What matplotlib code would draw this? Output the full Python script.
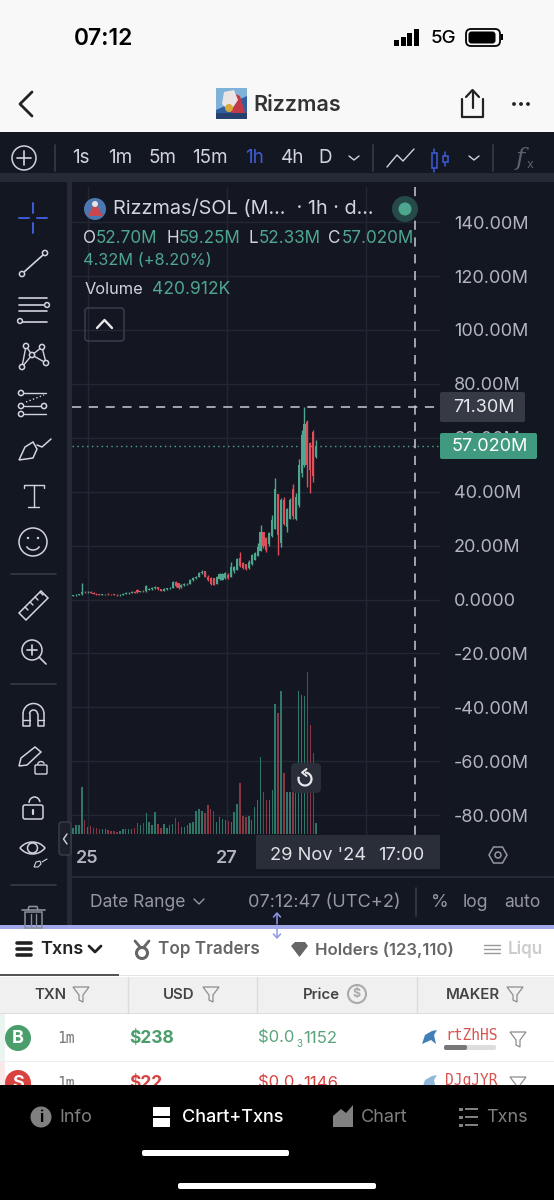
import matplotlib
matplotlib.use("Agg")
import matplotlib.pyplot as plt
from matplotlib.patches import Rectangle, Circle, Polygon, FancyBboxPatch, Arc

plt.rcParams['font.family'] = ['Inter', 'DejaVu Sans']

# candles, values in millions
opens = [1.4,1.5,1.7,1.9,2.8,2.6,2.8,2.5,2.2,1.9, 1.8,1.9,2.1,2.1,1.9,1.8,1.6,1.7,2.2,2.4,
         2.5,2.7,3.7,2.7,3.3,3.0,3.6,3.8,4.1,4.5, 3.8,3.2,3.8,4.1,4.3,6.6,6.0,4.5,5.3,5.7,
         5.8,7.2,7.9,8.5,9.7,10.5,8.5,8.0,7.8,5.8, 7.5,7.3,7.9,9.2,8.5,10.5,11,15.5,13.5,13,
         11.8,13,14.5,16,18,24.9,23,20.5,23.5,26, 39,21,37,27,30,41,30,35,47,50,
         66,58,62,52.70]
closes = [1.5,1.7,1.9,2.8,2.6,2.7,2.5,2.2,1.9,1.8, 1.9,2.0,2.0,1.9,1.8,1.6,1.7,2.2,2.4,2.5,
          2.7,2.5,2.7,3.0,3.1,4.9,3.8,4.1,4.5,3.8, 3.2,3.8,4.1,4.3,6.6,4.9,4.2,5.3,5.7,5.8,
          7.2,7.9,8.5,9.7,10.3,8.5,7.2,5.8,5.5,8.3, 9.4,9.6,9.7,8.0,12,12,15,12.5,11.8,11.5,
          14,16.5,17.2,19.5,25,20,18.5,24.5,29.5,41, 24,37,28,33.5,37,31,38,50,61,65,
          50,48,46,57.02]
highs = [1.7,1.9,2.2,6.0,3.2,3.1,3.1,2.7,2.3,2.1, 2.2,2.2,2.3,2.2,2.1,1.9,1.9,2.5,2.7,2.9,
         3.0,3.0,3.9,3.3,3.7,5.2,4.1,4.5,4.9,4.6, 3.9,4.1,4.4,4.6,6.9,6.8,6.2,5.6,6.0,6.2,
         7.5,8.3,8.9,10.1,10.8,10.7,9.0,8.3,8.1,8.6, 9.8,10.0,10.1,9.7,14,12.5,15.3,17.7,14,13.3,
         14.6,17,17.7,20.8,27.6,25.1,23.3,25.1,31.3,44.9, 39.1,37.5,38.1,33.8,37.5,43,39.4,52.3,62.9,71.3,
         66.6,58.5,62.9,59.25]
lows = [1.3,1.4,1.6,1.7,2.3,2.4,2.3,2.0,1.8,1.7, 1.7,1.8,1.8,1.8,1.6,1.4,1.4,1.6,2.1,2.2,
        2.3,2.3,2.5,2.6,2.9,2.9,3.4,3.7,3.9,3.5, 3.0,3.1,3.6,4.0,4.1,4.7,4.0,4.2,5.1,5.3,
        5.6,7.0,7.6,8.2,9.4,8.2,6.9,5.5,5.2,5.6, 7.3,7.1,7.6,7.7,8.2,10,10.8,12,11.5,11,
        11.5,12.8,14.5,16,18,19,17.7,20,23.3,26, 16.5,19.5,27.6,25.1,30,30,29.5,34.4,45.5,49,
        41.8,39.4,43.7,52.33]
# volume in thousands
volumes = [250,355,355,1867,552,289,316,250,224,210, 210,184,158,132,118,92,118,197,210,210,
           197,224,447,355,447,815,460,355,855,395, 224,381,250,355,381,618,487,263,289,355,
           421,487,907,973,921,815,1144,973,921,487, 684,579,552,513,487,855,1170,2025,710,658,
           710,552,1052,1341,3051,1644,1341,1341,1736,5115, 4760,5641,2393,1644,1644,1644,1604,5615,5484,5444,
           6365,4300,3182,420.912]
price_ticks = [140,120,100,80,60,40,20,0,-20,-40,-60,-80]
price_labels = ["140.00M","120.00M","100.00M","80.00M","60.00M","40.00M","20.00M","0.0000",
                "-20.00M","-40.00M","-60.00M","-80.00M"]
date_ticks = [5, 52.5, 100]
last_high = 71.30
last_close = 57.02

W, H = 554, 1200
DARK = "#131722"
PANE = "#141721"
GAP = "#262a36"
TXT = "#d1d4dc"
GREY = "#9598a1"
GREEN = "#4fa68e"
RED = "#dd4f5b"
BLUE = "#3f5bd8"

fig = plt.figure(figsize=(5.54, 12), dpi=100, facecolor="#f8f8f8")


def full_axes(z):
    a = fig.add_axes([0, 0, 1, 1], zorder=z)
    a.set_xlim(0, W)
    a.set_ylim(H, 0)
    a.axis("off")
    a.patch.set_alpha(0)
    return a


bg = full_axes(0)
ui = full_axes(5)

# backgrounds
bg.add_patch(Rectangle((0, 132), W, 793, color=DARK, lw=0))
bg.add_patch(Rectangle((0, 173), W, 9, color=GAP, lw=0))
bg.add_patch(Rectangle((67, 182), 5, 743, color=GAP, lw=0))
bg.add_patch(Rectangle((72, 876), W - 72, 1.5, color=GAP, lw=0))
bg.add_patch(Rectangle((0, 925), W, 160, color="white", lw=0))
bg.add_patch(Rectangle((0, 1085), W, 115, color="black", lw=0))

# price pane, pixel box x 72..440, y 187..835
L, R, T, B = 72, 440, 187, 835
rect = [L / W, 1 - B / H, (R - L) / W, (B - T) / H]
ax = fig.add_axes(rect, zorder=2, facecolor=PANE)
ax.set_xlim(-0.35, -0.35 + (R - L) / 2.93)
ax.set_ylim((599.5 - B) / 2.695, (599.5 - T) / 2.695)
ax.set_yticks(price_ticks)
ax.set_yticklabels(price_labels, fontsize=13, color="#b2b5be")
ax.yaxis.tick_right()
ax.tick_params(axis="y", length=0, pad=10)
ax.set_xticks(date_ticks)
ax.set_xticklabels(["25", "27", ""], fontsize=13, fontweight="semibold", color="#b2b5be")
ax.tick_params(axis="x", length=0, pad=11)
ax.grid(True, color="#232733", lw=1)
ax.set_axisbelow(True)
for s in ax.spines.values():
    s.set_visible(False)

idx = list(range(len(opens)))
cols = [GREEN if c >= o else RED for o, c in zip(opens, closes)]
ax.vlines(idx, lows, highs, colors=cols, lw=1, zorder=3)
ax.bar(idx, [c - o for o, c in zip(opens, closes)], bottom=opens, width=0.72, color=cols, lw=0, zorder=3)

ax.axhline(last_high, color="#c9ccd3", lw=1.1, ls=(0, (6, 5)), zorder=4)
ax.axhline(last_close, color=GREEN, lw=1, ls=(0, (1, 2.5)), zorder=2)

# volume shares the lower part of the pane
vx = fig.add_axes(rect, zorder=3)
vx.patch.set_alpha(0)
vx.set_xlim(ax.get_xlim())
vx.set_ylim(-39.4, (834 - T) * 39.4)
vx.axis("off")
vcols = ["#2e7768" if c >= o else "#883743" for o, c in zip(opens, closes)]
vx.bar(idx, volumes, width=0.5, color=vcols, lw=0)


def t(x, y, s, size=13, color=TXT, ha="left", weight="normal", family=None, **kw):
    if family:
        kw["family"] = family
    return ui.text(x, y + 1.2, s, fontsize=size, color=color, ha=ha, va="center", fontweight=weight, **kw)


def ln(xs, ys, color=TXT, lw=1.2, **kw):
    ui.plot(xs, ys, color=color, lw=lw, solid_capstyle="round", **kw)


def box(x, y, w, h, color, r=3, ec="none", lw=0, z=2):
    ui.add_patch(FancyBboxPatch((x + r, y + r), w - 2 * r, h - 2 * r, boxstyle=f"round,pad={r}",
                                fc=color, ec=ec, lw=lw, zorder=z))


def circ(x, y, r, fc="none", ec=TXT, lw=1.1, z=3):
    ui.add_patch(Circle((x, y), r, fc=fc, ec=ec, lw=lw, zorder=z))


def poly(pts, fc="none", ec=TXT, lw=1.1, z=3):
    ui.add_patch(Polygon(pts, closed=True, fc=fc, ec=ec, lw=lw, zorder=z))


def funnel(x, y, color="#8d8d8d", s=1.0):
    poly([(x - 8 * s, y - 7 * s), (x + 8 * s, y - 7 * s), (x + 2 * s, y + 1 * s),
          (x + 2 * s, y + 8 * s), (x - 2 * s, y + 6 * s), (x - 2 * s, y + 1 * s)], ec=color, lw=0.9)


# phone status bar
t(104, 37.5, "07:12", 16.5, "black", "center", "semibold")
for i, h_ in enumerate([6, 9, 13, 17]):
    ui.add_patch(Rectangle((394 + i * 6.7, 45.5 - h_), 5, h_, color="black", lw=0))
t(443, 37.5, "5G", 13.5, "black", "center", "medium")
box(466, 29, 34, 17, "none", r=5, ec="black", lw=1.3)
box(468.5, 31.5, 27, 12, "black", r=3)
ui.add_patch(Rectangle((501, 34), 2, 6, color="black", lw=0))

# header
ln([32, 20, 32], [92, 104, 116], "#222222", 2)
ui.add_patch(Rectangle((216, 88), 31, 31, color="#2f5f9e", lw=0, zorder=2))
poly([(216, 88), (247, 88), (247, 96), (216, 110)], fc="#7fb2d8", ec="none", lw=0)
poly([(231, 92), (240, 96), (247, 119), (232, 119)], fc="#c2394a", ec="none", lw=0)
poly([(224, 92), (234, 90), (238, 100), (230, 112), (222, 104)], fc="#ece4e4", ec="none", lw=0)
circ(229, 108, 4, fc="#d8a83a", ec="none", lw=0)
poly([(216, 113), (247, 113), (247, 119), (216, 119)], fc="#27406f", ec="none", lw=0)
t(253, 103.5, "Rizzmas", 15.5, "#333333", weight="semibold")
ln([462, 462, 483, 483], [99, 117, 117, 99], "#222222", 1.6)
ln([472.5, 472.5], [91, 108], "#222222", 1.6)
ln([466, 472.5, 479], [97, 90, 97], "#222222", 1.6)
for x_ in [514, 521, 528]:
    circ(x_, 104, 1.9, fc="#222222", ec="none", lw=0)

# top toolbar
circ(24, 158, 12, ec=TXT)
ln([24, 24], [151, 165]); ln([17, 31], [158, 158])
ln([55, 55], [145, 171], "#363a45")
for x_, s_ in [(72, "1s"), (108, "1m"), (149, "5m"), (192, "15m"), (245, "1h"), (281, "4h"), (318, "D")]:
    t(x_, 157, s_, 13.6, BLUE if s_ == "1h" else TXT)
ln([349, 354, 359], [156, 160, 156], TXT, 1)
ln([373, 373], [145, 171], "#363a45")
ln([387, 397, 403, 414], [167, 155, 161, 149], TXT, 1)
for x_, y0, y1 in [(434, 149, 172), (445, 152, 166)]:
    ln([x_, x_], [y0, y1], BLUE, 1.1)
    ui.add_patch(Rectangle((x_ - 2.5, y0 + 4), 5, y1 - y0 - 8, fc=DARK, ec=BLUE, lw=1.1, zorder=3))
ln([469, 474, 479], [156, 160, 156], TXT, 1)
ln([493, 493], [145, 171], "#363a45")
t(520, 157, "f", 18, "#5a5f6b", "center", family="DejaVu Serif", style="italic")
t(530, 164, "x", 9, "#5a5f6b", "center")

# drawing tools column
for yy in [574, 684, 885]:
    ln([11, 56], [yy, yy], "#363a45")
ln([33, 33], [203, 213], BLUE, 1.4); ln([33, 33], [223, 233], BLUE, 1.4)
ln([19, 29], [218, 218], BLUE, 1.4); ln([37, 47], [218, 218], BLUE, 1.4)
ln([24, 43], [272, 255]); circ(22, 274, 2.6, fc=DARK); circ(45, 253, 2.6, fc=DARK)
for yy in [298, 305, 311, 322]:
    ln([19, 47], [yy, yy])
circ(47, 305, 2.4, fc=DARK); circ(20, 321, 2.4, fc=DARK)
# pattern
px_ = [26, 42, 32, 22, 46]
py_ = [346, 347, 355, 367, 363]
for a_, b_ in [(3, 0), (0, 2), (2, 1), (1, 4), (3, 2), (2, 4)]:
    ln([px_[a_], px_[b_]], [py_[a_], py_[b_]], TXT, 1)
for a_, b_ in zip(px_, py_):
    circ(a_, b_, 2.6, fc=DARK)
# fib
for yy, x1 in [(393, 46), (406, 41), (414, 46)]:
    ln([24, x1], [yy, yy], TXT, 1)
ln([26, 44], [402, 395], TXT, 1, ls=":")
circ(21, 393, 2.6, fc=DARK); circ(21, 406, 2.6, fc=DARK); circ(21, 414, 2.6, fc=DARK); circ(44, 406, 2.6, fc=DARK)
# brush
poly([(19, 460), (25, 447), (33, 442), (37, 449), (33, 458)])
ln([37, 42, 51], [445, 447, 439], TXT, 1.1)
# text tool
ln([24, 24, 44, 44], [488, 485, 485, 488], TXT, 1)
ln([33.5, 33.5], [485, 507], TXT, 1)
ln([28, 39], [507, 507], TXT, 1)
circ(33, 542, 14)
circ(28, 538, 1.2, fc=TXT, ec="none", lw=0); circ(38, 538, 1.2, fc=TXT, ec="none", lw=0)
ui.add_patch(Arc((33, 544), 14, 12, theta1=20, theta2=160, color=TXT, lw=1.1, zorder=3))
poly([(19, 613), (41, 591), (48, 598), (26, 620)])
for k in range(4):
    ln([25 + k * 5, 28 + k * 5], [607 - k * 5, 610 - k * 5], TXT, 1)
circ(32, 650, 10); ln([39, 46], [657, 664]); ln([32, 32], [645, 655]); ln([27, 37], [650, 650])
# magnet
ui.add_patch(Arc((33.5, 714), 21, 21, theta1=180, theta2=360, color=TXT, lw=1.1, zorder=3))
ui.add_patch(Arc((33.5, 714), 8, 8, theta1=180, theta2=360, color=TXT, lw=1.1, zorder=3))
ln([23, 23, 29.5, 29.5], [714, 726, 726, 714], TXT, 1.1)
ln([44, 44, 37.5, 37.5], [714, 726, 726, 714], TXT, 1.1)
ln([23, 29.5], [720, 720], TXT, 1); ln([37.5, 44], [720, 720], TXT, 1)
# pencil with lock
poly([(19, 766), (21, 758), (35, 747), (41, 752), (27, 765)])
box(35, 765, 12, 9, "none", r=1, ec=TXT, lw=1)
ui.add_patch(Arc((41, 765), 7, 7, theta1=180, theta2=340, color=TXT, lw=1, zorder=3))
# open lock
box(23, 805, 20, 14, "none", r=2, ec=TXT, lw=1.1)
ui.add_patch(Arc((34.5, 803), 11, 12, theta1=180, theta2=350, color=TXT, lw=1.1, zorder=3))
ln([33, 33], [810, 814], TXT, 1.6)
# eye
ui.add_patch(Arc((32.5, 858), 32, 32, theta1=218, theta2=322, color=TXT, lw=1.1, zorder=3))
ui.add_patch(Arc((32.5, 838), 32, 32, theta1=38, theta2=142, color=TXT, lw=1.1, zorder=3))
circ(32.5, 848, 5)
poly([(34, 867), (36, 862), (40, 861), (41, 864), (38, 867)], lw=0.8)
ln([42, 47], [862, 859], TXT, 0.8)
# bin
ui.add_patch(Rectangle((25, 912), 17, 16, fc="none", ec="#8b8e96", lw=1.1, zorder=3))
ln([22, 45], [910, 910], "#8b8e96"); ln([28, 29, 37, 38], [910, 906.5, 906.5, 910], "#8b8e96")
ln([31, 31], [914, 926], "#8b8e96", 1); ln([36, 36], [914, 926], "#8b8e96", 1)
box(59, 822, 12, 33, "#1c202b", r=3, ec="#3a3e4a", lw=1)
ln([67, 63.5, 67], [834, 839, 844], TXT, 1)

# legend on the chart
circ(95, 209, 11, fc="#4b78b0", ec="none", lw=0)
poly([(88, 216), (95, 202), (103, 216)], fc="#c9474f", ec="none", lw=0)
circ(95, 204, 3, fc="#e8e2e2", ec="none", lw=0)
t(113, 208, "Rizzmas/SOL (M...  · 1h · d...", 14.3, TXT)
circ(405, 209, 13, fc="#254a47", ec="none", lw=0)
circ(405, 209, 6.5, fc=GREEN, ec="none", lw=0)
for xa, a_, xb, b_ in [(83, "O", 96, "52.70M"), (166, "H", 179, "59.25M"), (248, "L", 259, "52.33M"),
                       (328, "C", 342, "57.020M")]:
    t(xa, 237, a_, 12.3, TXT)
    t(xb, 237, b_, 12.3, GREEN)
t(83, 259, "4.32M (+8.20%)", 11.8, GREEN)
t(85, 288, "Volume", 11.8, TXT)
t(152, 288, "420.912K", 12.6, GREEN)
box(85, 308, 39, 33, "none", r=3, ec="#3a3e4a", lw=1.1)
ln([97, 104.5, 112], [328, 320, 328], "#e8e8ea", 1.7)

# crosshair and price labels
ln([415, 415], [187, 835], "#c9ccd3", 1.1, ls=(0, (6, 5)))
box(440, 392, 85, 30, "#363a45", r=2)
t(453, 406, "71.30M", 13, "#e8e9ec")
box(440, 433, 97, 26, "#3f9a7f", r=2)
t(452, 445, "57.020M", 13, "white")
box(256, 835, 184, 34, "#2a2e39", r=1)
t(270, 854, "29 Nov '24", 13.2, "#e0e2e6")
t(378, 854, "17:00", 13.2, "#e0e2e6")
poly([(489, 855), (493.5, 847), (502.5, 847), (507, 855), (502.5, 863), (493.5, 863)], ec=GREY)
circ(498, 855, 3, ec=GREY)
box(291, 763, 30, 30, "#2a2e39", r=5)
ui.add_patch(Arc((305, 779), 13, 13, theta1=270, theta2=560, color="#e8e8ea", lw=1.6, zorder=4))
ln([306.5, 302, 306.5], [769, 772.5, 776], "#e8e8ea", 1.4, zorder=4)

# bottom strip of the chart
t(90, 901, "Date Range", 12.6, GREY)
ln([194, 199, 204], [899, 904, 899], GREY, 1)
t(248, 901, "07:12:47 (UTC+2)", 13.1, GREY)
ln([416, 416], [888, 916], "#363a45")
t(431, 901, "%", 13, GREY)
t(463, 901, "log", 12.6, GREY)
t(504, 901, "auto", 12.6, GREY)
ui.add_patch(Rectangle((0, 925), W, 3.5, color="#a2a9ea", lw=0))
ln([277, 277], [914, 924], "#8f97e6", 1.1); ln([273.5, 277, 280.5], [917, 913, 917], "#8f97e6", 1.1)
ln([277, 277], [929, 937], "#8f97e6", 1.1); ln([273.5, 277, 280.5], [934, 938, 934], "#8f97e6", 1.1)

# tabs
for yy in [943, 949, 955]:
    ln([17, 31], [yy, yy], "#222222", 2.6)
t(40, 948.5, "Txns", 13, "#222222", weight="semibold")
ln([89, 95, 101], [946, 952, 946], "#222222", 2)
circ(142, 953, 5.5, fc="none", ec="#666666", lw=2.2)
ln([135, 140], [941, 947], "#666666", 2); ln([149, 144], [941, 947], "#666666", 2)
t(158, 948.5, "Top Traders", 12.3, "#666666", weight="semibold")
poly([(291, 946), (295, 942), (305, 942), (308, 946), (299.5, 957)], fc="#666666", ec="none", lw=0)
t(315, 948.5, "Holders (123,110)", 12.1, "#666666", weight="semibold")
for yy in [945, 949, 953]:
    ln([484, 500], [yy, yy], "#999999", 1)
t(508, 948.5, "Liqu", 12.3, "#cccccc", weight="semibold")
ui.add_patch(Rectangle((0, 973.5), 119, 2.5, color="#555555", lw=0))
ui.add_patch(Rectangle((119, 975), W - 119, 1, color="#e6e6e6", lw=0))

# table
ui.add_patch(Rectangle((0, 977), W, 37, color="#f0f0f0", lw=0))
ui.add_patch(Rectangle((0, 1013), W, 1.2, color="#dedede", lw=0))
ui.add_patch(Rectangle((0, 1061), W, 1, color="#ececec", lw=0))
ui.add_patch(Rectangle((0, 1014), 5, 47, color="#e9f5ee", lw=0))
ui.add_patch(Rectangle((0, 1062), 5, 23, color="#fbe9e9", lw=0))
for x_ in [128, 257, 417]:
    ln([x_, x_], [977, 1013], "#dcdcdc", 1)
for x_, s_ in [(50, "TXN"), (179, "USD"), (321, "Price"), (473, "MAKER")]:
    t(x_, 994, s_, 10.8, "#444444", "center", "semibold")
funnel(81, 994); funnel(211, 994); funnel(515, 994)
circ(357, 994, 9, ec="#aaaaaa", lw=1.5)
t(357, 993, "$", 9, "#aaaaaa", "center", "bold")

# rows, the second is cut by the nav bar
MONO = ["DejaVu Sans Mono"]
for yy, letter, col, usd, tail, maker, logo in [(1038, "B", "#4a9e6b", "$238", "1152", "rtZhHS", "#3f7fb5"),
                                                 (1083, "S", "#d9433f", "$22", "1146", "DJqJYR", "#8fb8dc")]:
    price_col = "#5ba37a" if letter == "B" else col
    circ(18, yy, 13, fc=col, ec="none", lw=0)
    t(18, yy - 1, letter, 13, "white", "center", "bold")
    t(66, yy - 1, "1m", 10.5, "#777777", "center", family=MONO)
    t(129, yy - 1, usd, 12.5, col, weight="bold")
    t(258, yy - 1, "$0.0", 12, price_col)
    t(296, yy + 5, "3", 7, price_col)
    t(303, yy - 1, tail, 12, price_col)
    poly([(422, yy + 6), (425, yy - 3), (432, yy - 7), (437, yy - 8), (434, yy - 3), (436, yy + 6), (431, yy + 2)],
         fc=logo, ec="none", lw=0)
    t(445, yy - 4, maker, 10.5, "#d9534f", family=MONO)
    funnel(518, yy + 1)
box(444, 1045, 52, 5, "#dddddd", r=2)
box(444, 1045, 23, 5, "#777777", r=2)

# nav bar goes over the cut row
ui.add_patch(Rectangle((0, 1085), W, 115, color="black", lw=0, zorder=10))
nav = dict(zorder=11)
ui.add_patch(Circle((41, 1117), 10.5, color="#808080", lw=0, zorder=11))
t(41, 1116, "i", 11, "black", "center", "bold", **nav)
t(59, 1116.5, "Info", 13, "#808080", **nav)
ui.add_patch(Rectangle((153, 1107), 17, 8.5, color="white", lw=0, zorder=11))
ui.add_patch(Rectangle((153, 1118), 17, 8.5, color="white", lw=0, zorder=11))
t(182, 1116.5, "Chart+Txns", 13, "white", weight="medium", **nav)
ui.add_patch(Polygon([(333, 1127), (333, 1116), (341, 1109), (346, 1113), (353, 1105), (353, 1127)],
                     fc="#808080", lw=0, zorder=11))
t(361, 1116.5, "Chart", 13, "#808080", **nav)
for yy in [1109, 1117, 1125]:
    ui.add_patch(Rectangle((459, yy - 1.5), 3.5, 3.5, color="#808080", lw=0, zorder=11))
    ui.add_patch(Rectangle((465, yy - 1), 13, 2.4, color="#808080", lw=0, zorder=11))
t(486, 1116.5, "Txns", 13, "#808080", **nav)
ui.add_patch(FancyBboxPatch((144, 1152), 143, 2, boxstyle="round,pad=2", fc="white", lw=0, zorder=11))
ui.add_patch(FancyBboxPatch((180, 1185), 194, 2, boxstyle="round,pad=2", fc="white", lw=0, zorder=11))

fig.savefig("out.png", dpi=100, facecolor=fig.get_facecolor())
